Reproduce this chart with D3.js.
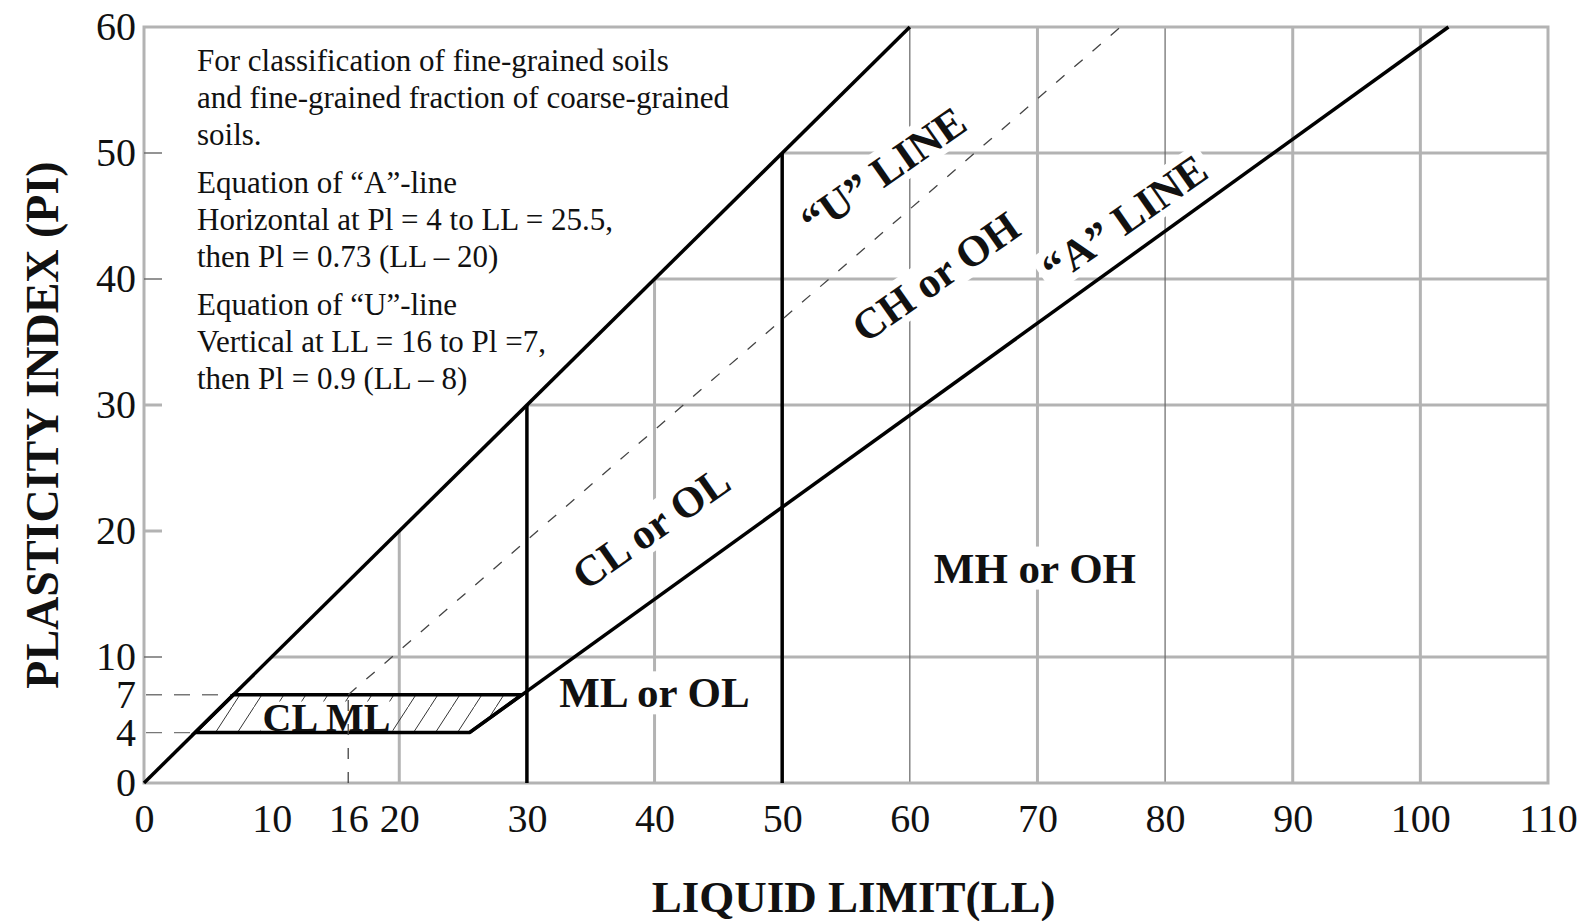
<!DOCTYPE html>
<html>
<head>
<meta charset="utf-8">
<script src="https://cdn.jsdelivr.net/npm/d3@7"></script>
<style>
  body { margin: 0; background: #fff; }
  svg text { font-family: "Liberation Serif", "Times New Roman", serif; fill: #111; }
</style>
</head>
<body>
<div id="chart"></div>
<script>
// tick values on both axes
const xTickValues = [0, 10, 16, 20, 30, 40, 50, 60, 70, 80, 90, 100, 110];
const yTickValues = [0, 4, 7, 10, 20, 30, 40, 50, 60];
const yInnerTicks = [10, 20, 30, 40, 50];
const yDashedTicks = [4, 7];

// boundary lines, points are [LL, PI]
const equalityLine = [[0, 0], [60, 60]];
const aLine = [[25.5, 4], [102.2, 60]];
const uLine = [[16, 7], [76.5, 60]];
const uLineFoot = [[16, 0], [16, 7]];
const llDividers = [[30, 30], [50, 50]];   // [LL, top PI]
const clmlZone = [[4, 4], [25.5, 4], [29.6, 7], [7, 7]];

// grid lines
const hGrid = [10, 30, 40, 50];
const vGridThick = [20, 40, 70, 90, 100];
const vGridThin = [60, 80];

// zone names, anchored at [LL, PI]
const zoneLabels = [
    {text: 'CL or OL', ll: 39.7, pi: 20.3, diagonal: true},
    {text: 'CH or OH', ll: 62.0, pi: 40.2, diagonal: true},
    {text: '\u201CU\u201D LINE', ll: 57.9, pi: 48.6, diagonal: true},
    {text: '\u201CA\u201D LINE', ll: 76.8, pi: 44.8, diagonal: true},
    {text: 'ML or OL', ll: 40.0, pi: 7.2, diagonal: false},
    {text: 'MH or OH', ll: 69.8, pi: 17.1, diagonal: false}
];
const clmlLabel = {text: 'CL ML', ll: 14.3, pi: 5.2};

const noteGroups = [
    ['For classification of fine-grained soils',
     'and fine-grained fraction of coarse-grained',
     'soils.'],
    ['Equation of \u201CA\u201D-line',
     'Horizontal at Pl = 4 to LL = 25.5,',
     'then Pl = 0.73 (LL \u2013 20)'],
    ['Equation of \u201CU\u201D-line',
     'Vertical at LL = 16 to Pl =7,',
     'then Pl = 0.9 (LL \u2013 8)']
];

class PlasticityChart {

    constructor(_config) {
        this.config = {
            parentElement: _config.parentElement,
            containerWidth: _config.containerWidth || 1589,
            containerHeight: _config.containerHeight || 921,
            margin: _config.margin || {top: 27, right: 41, bottom: 138, left: 144}
        };
        this.initVis();
    }

    initVis() {
        let vis = this;

        vis.width = vis.config.containerWidth - vis.config.margin.left - vis.config.margin.right;
        vis.height = vis.config.containerHeight - vis.config.margin.top - vis.config.margin.bottom;

        vis.svg = d3.select(vis.config.parentElement)
            .append('svg')
            .attr('width', vis.config.containerWidth)
            .attr('height', vis.config.containerHeight);

        vis.chart = vis.svg.append('g')
            .attr('transform', `translate(${vis.config.margin.left},${vis.config.margin.top})`);

        vis.xScale = d3.scaleLinear().domain([0, 110]).range([0, vis.width]);
        vis.yScale = d3.scaleLinear().domain([0, 60]).range([vis.height, 0]);

        vis.line = d3.line()
            .x(d => vis.xScale(d[0]))
            .y(d => vis.yScale(d[1]));

        // layers, bottom to top
        vis.gridLayer = vis.chart.append('g');
        vis.hatchLayer = vis.chart.append('g');
        vis.bgLayer = vis.chart.append('g');
        vis.lineLayer = vis.chart.append('g');
        vis.textLayer = vis.chart.append('g');

        const defs = vis.svg.append('defs');
        const pat = defs.append('pattern')
            .attr('id', 'hatch')
            .attr('patternUnits', 'userSpaceOnUse')
            .attr('width', 22)
            .attr('height', 34);
        pat.append('line')
            .attr('x1', -1).attr('y1', 35.5)
            .attr('x2', 23).attr('y2', -1.5)
            .attr('stroke', '#333')
            .attr('stroke-width', 1);

        vis.xAxis = d3.axisBottom(vis.xScale)
            .tickValues(xTickValues)
            .tickSize(0)
            .tickPadding(21)
            .tickFormat(d3.format('d'));

        vis.yAxis = d3.axisLeft(vis.yScale)
            .tickValues(yTickValues)
            .tickSize(0)
            .tickPadding(8)
            .tickFormat(d3.format('d'));
    }

    renderVis() {
        let vis = this;
        const grey = '#b3b3b3';

        // grid: everything lies below the PI = LL line
        vis.gridLayer.selectAll('.h-grid')
            .data(hGrid)
            .join('line')
            .attr('class', 'h-grid')
            .attr('x1', d => vis.xScale(d))
            .attr('x2', vis.xScale(110))
            .attr('y1', d => vis.yScale(d))
            .attr('y2', d => vis.yScale(d))
            .attr('stroke', grey)
            .attr('stroke-width', 3);

        vis.gridLayer.selectAll('.v-grid')
            .data(vGridThick)
            .join('line')
            .attr('class', 'v-grid')
            .attr('x1', d => vis.xScale(d))
            .attr('x2', d => vis.xScale(d))
            .attr('y1', vis.yScale(0))
            .attr('y2', d => vis.yScale(Math.min(d, 60)))
            .attr('stroke', grey)
            .attr('stroke-width', 3);

        vis.gridLayer.selectAll('.v-grid-thin')
            .data(vGridThin)
            .join('line')
            .attr('class', 'v-grid-thin')
            .attr('x1', d => vis.xScale(d))
            .attr('x2', d => vis.xScale(d))
            .attr('y1', vis.yScale(0))
            .attr('y2', d => vis.yScale(Math.min(d, 60)))
            .attr('stroke', '#666')
            .attr('stroke-width', 1.2);

        // frame
        vis.gridLayer.append('rect')
            .attr('x', 0).attr('y', 0)
            .attr('width', vis.width)
            .attr('height', vis.height)
            .attr('fill', 'none')
            .attr('stroke', grey)
            .attr('stroke-width', 3);

        // inner tick marks on PI axis
        vis.gridLayer.selectAll('.y-tick')
            .data(yInnerTicks)
            .join('line')
            .attr('class', 'y-tick')
            .attr('x1', 0).attr('x2', 18)
            .attr('y1', d => vis.yScale(d))
            .attr('y2', d => vis.yScale(d))
            .attr('stroke', d => (d === 20 || d === 30) ? grey : '#666')
            .attr('stroke-width', d => (d === 20 || d === 30) ? 3 : 1.4);

        vis.gridLayer.selectAll('.y-dash')
            .data(yDashedTicks)
            .join('line')
            .attr('class', 'y-dash')
            .attr('x1', 2)
            .attr('x2', d => vis.xScale(d))
            .attr('y1', d => vis.yScale(d))
            .attr('y2', d => vis.yScale(d))
            .attr('stroke', '#777')
            .attr('stroke-width', 1.4)
            .attr('stroke-dasharray', '16,12');

        // CL-ML hatched band
        vis.hatchLayer.append('path')
            .attr('d', vis.line(clmlZone) + 'Z')
            .attr('fill', 'url(#hatch)')
            .attr('stroke', 'none');

        // zone labels with white backgrounds
        zoneLabels.forEach(d => {
            const tr = `translate(${vis.xScale(d.ll)},${vis.yScale(d.pi)})` + (d.diagonal ? ' rotate(-35)' : '');
            const t = vis.textLayer.append('text')
                .attr('transform', tr)
                .attr('text-anchor', 'middle')
                .attr('dy', '0.35em')
                .attr('font-weight', 'bold')
                .attr('font-size', 43)
                .text(d.text);
            const bb = t.node().getBBox();
            vis.bgLayer.append('rect')
                .attr('transform', tr)
                .attr('x', bb.x - 6)
                .attr('y', bb.y + 2)
                .attr('width', bb.width + 12)
                .attr('height', bb.height - 4)
                .attr('fill', '#fff');
        });

        const cl = vis.textLayer.append('text')
            .attr('x', vis.xScale(clmlLabel.ll))
            .attr('y', vis.yScale(clmlLabel.pi))
            .attr('text-anchor', 'middle')
            .attr('dy', '0.35em')
            .attr('font-weight', 'bold')
            .attr('font-size', 40)
            .text(clmlLabel.text);
        const cbb = cl.node().getBBox();
        vis.bgLayer.append('rect')
            .attr('x', cbb.x - 2)
            .attr('y', cbb.y + 6)
            .attr('width', cbb.width + 4)
            .attr('height', cbb.height - 14)
            .attr('fill', '#fff');

        // black boundary lines
        vis.lineLayer.selectAll('.boundary')
            .data([equalityLine, aLine])
            .join('path')
            .attr('class', 'boundary')
            .attr('d', vis.line)
            .attr('fill', 'none')
            .attr('stroke', '#000')
            .attr('stroke-width', 3.5);

        vis.lineLayer.append('path')
            .attr('d', vis.line(clmlZone) + 'Z')
            .attr('fill', 'none')
            .attr('stroke', '#000')
            .attr('stroke-width', 3.5)
            .attr('stroke-linejoin', 'miter');

        vis.lineLayer.selectAll('.divider')
            .data(llDividers)
            .join('line')
            .attr('class', 'divider')
            .attr('x1', d => vis.xScale(d[0]))
            .attr('x2', d => vis.xScale(d[0]))
            .attr('y1', vis.yScale(0))
            .attr('y2', d => vis.yScale(d[1]))
            .attr('stroke', '#000')
            .attr('stroke-width', 3.5);

        // dashed U-line
        vis.lineLayer.selectAll('.u-line')
            .data([uLine, uLineFoot])
            .join('path')
            .attr('class', 'u-line')
            .attr('d', vis.line)
            .attr('fill', 'none')
            .attr('stroke', '#444')
            .attr('stroke-width', 1.3)
            .attr('stroke-dasharray', '11,13');

        // axes
        vis.xAxisG = vis.chart.append('g')
            .attr('transform', `translate(0,${vis.height})`)
            .call(vis.xAxis);
        vis.yAxisG = vis.chart.append('g')
            .call(vis.yAxis);
        [vis.xAxisG, vis.yAxisG].forEach(g => {
            g.select('.domain').remove();
            g.selectAll('text')
                .attr('font-family', '"Liberation Serif", serif')
                .attr('font-size', 40)
                .attr('fill', '#111');
        });

        // note block
        let yPos = 71;
        noteGroups.forEach((group, gi) => {
            if (gi > 0) yPos += 11;
            group.forEach(line => {
                vis.svg.append('text')
                    .attr('x', 197)
                    .attr('y', yPos)
                    .attr('font-size', 31)
                    .text(line);
                yPos += 37;
            });
        });

        // axis titles
        vis.svg.append('text')
            .attr('x', vis.config.margin.left + vis.xScale(55.6))
            .attr('y', 912)
            .attr('text-anchor', 'middle')
            .attr('font-weight', 'bold')
            .attr('font-size', 45)
            .text('LIQUID LIMIT(LL)');

        vis.svg.append('text')
            .attr('transform', 'translate(58,425) rotate(-90)')
            .attr('text-anchor', 'middle')
            .attr('font-weight', 'bold')
            .attr('font-size', 46)
            .text('PLASTICITY INDEX (PI)');
    }
}

const chart = new PlasticityChart({parentElement: '#chart'});
chart.renderVis();
</script>
</body>
</html>
